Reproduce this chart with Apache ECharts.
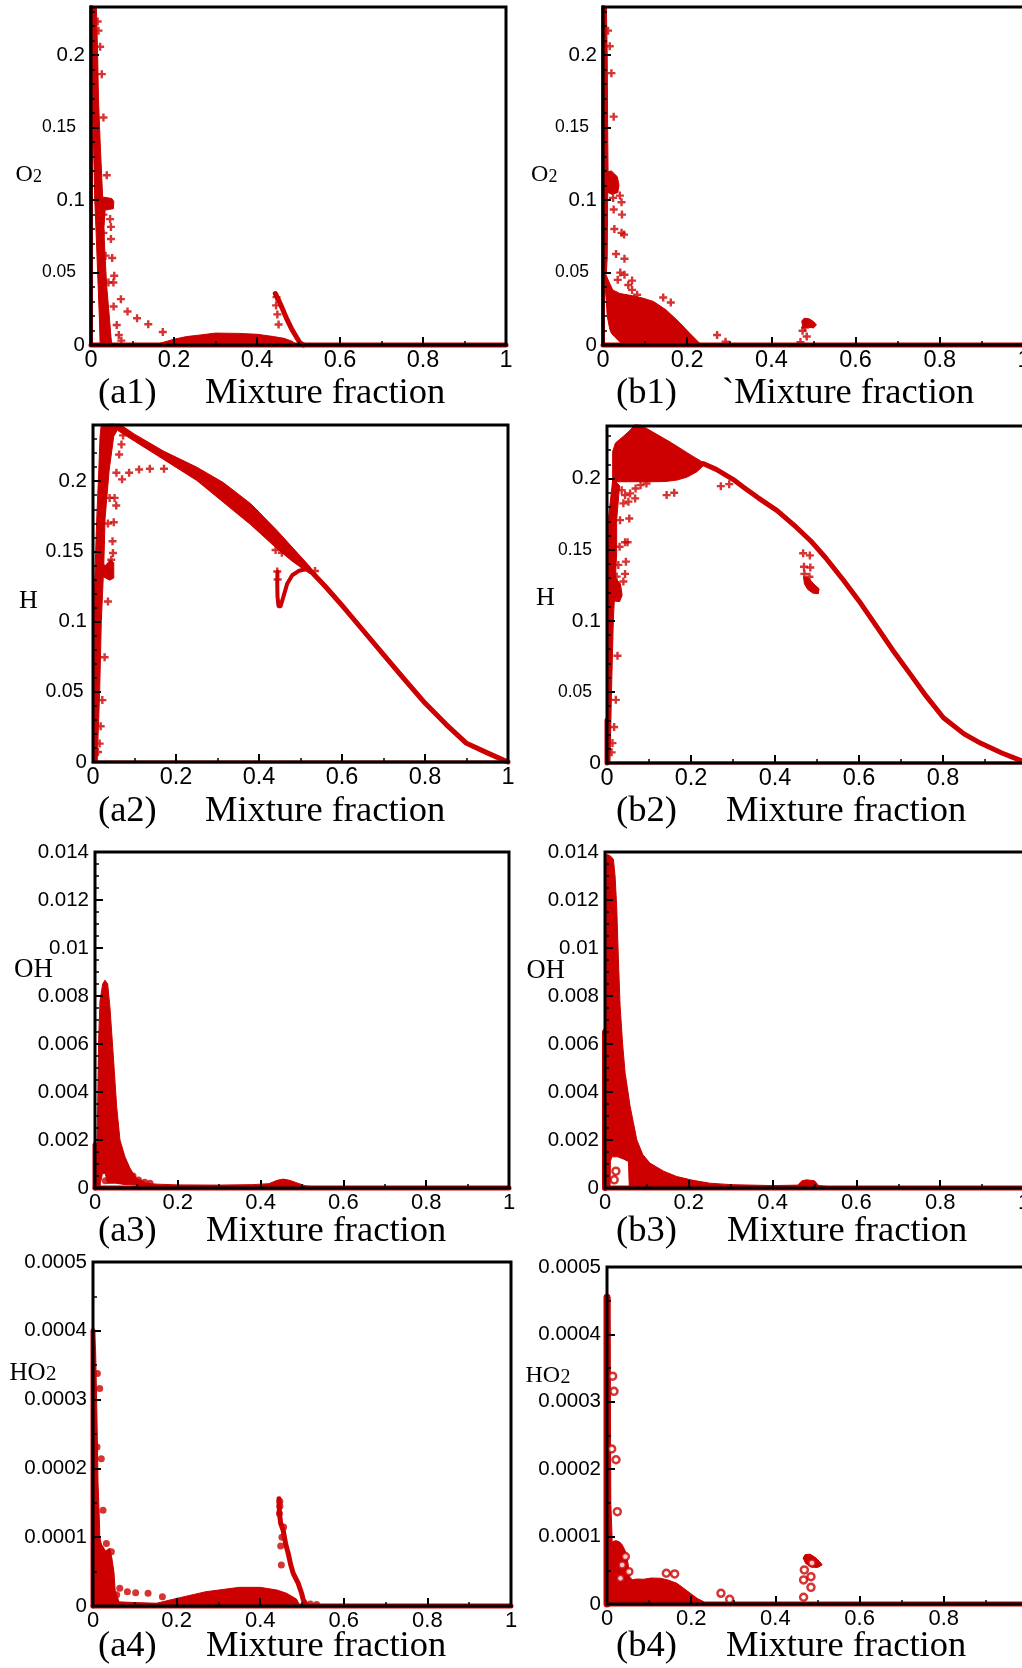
<!DOCTYPE html>
<html>
<head>
<meta charset="utf-8">
<script src="https://cdn.jsdelivr.net/npm/echarts@6/dist/echarts.min.js"></script>
<style>
  html, body { margin: 0; padding: 0; background: #fff; }
  #chart { width: 1022px; height: 1668px; }
</style>
</head>
<body>
<div id="chart"></div>
<script>
// ---- Scatter data: species mass fraction vs. mixture fraction ----
// (a*) and (b*) are the two cases; each dense cloud is kept as an outline,
// thin ridges as point sequences, sparse samples as individual points.

const zeroLine = [[0, 0], [1, 0]];

// (a1) O2
const a1Edge = [[0, 0], [0, 0.233]];
const a1Core = [[0,0.233],[0.013,0.232],[0.016,0.2],[0.018,0.17],[0.022,0.14],[0.026,0.115],[0.028,0.102],[0.05,0.101],[0.055,0.099],[0.054,0.094],[0.034,0.093],[0.031,0.08],[0.034,0.06],[0.038,0.04],[0.044,0.02],[0.048,0.006],[0.05,0],[0.022,0],[0.02,0.02],[0.016,0.05],[0.012,0.08],[0.009,0.1],[0.006,0.14],[0.003,0.18],[0,0.2]];
const a1Bump = [[0.15,0],[0.17,0.0015],[0.2,0.004],[0.23,0.0058],[0.263,0.0069],[0.3,0.0082],[0.356,0.008],[0.4,0.0074],[0.44,0.0058],[0.465,0.0046],[0.485,0.0025],[0.497,0]];
const a1Hook = [[0.444,0.0355],[0.452,0.031],[0.46,0.0259],[0.472,0.0178],[0.484,0.0108],[0.496,0.005],[0.504,0.0014],[0.512,0]];
const a1Plus = [[0.016,0.223],[0.018,0.2167],[0.022,0.2056],[0.026,0.1867],[0.030,0.1568],[0.038,0.117],[0.030,0.0899],[0.046,0.0868],[0.048,0.0814],[0.030,0.0773],[0.048,0.0731],[0.035,0.0616],[0.051,0.060],[0.056,0.0477],[0.042,0.0431],[0.054,0.0431],[0.072,0.0316],[0.088,0.0231],[0.111,0.0184],[0.138,0.0143],[0.173,0.009],[0.0545,0.0265],[0.062,0.0138],[0.067,0.0069],[0.073,0.003],[0.446,0.0273],[0.449,0.0211],[0.452,0.0141],[0.447,0.033]];

// (b1) O2
const b1Edge = [[0, 0], [0, 0.233]];
const b1Spine = [[0,0.233],[0.008,0.233],[0.01,0.2],[0.011,0.15],[0.012,0.12],[0.011,0.1],[0.01,0.06],[0.008,0.05],[0,0.05]];
const b1Knot = [[0.004,0.119],[0.02,0.12],[0.034,0.116],[0.038,0.11],[0.035,0.105],[0.02,0.104],[0.006,0.106]];
const b1Blob = [[0,0.052],[0.004,0.0505],[0.012,0.045],[0.023,0.038],[0.04,0.0355],[0.07,0.034],[0.095,0.0323],[0.12,0.030],[0.15,0.0242],[0.18,0.016],[0.205,0.0084],[0.229,0.0014],[0.235,0],[0.056,0],[0.04,0.002],[0.02,0.008],[0.016,0.011],[0.01,0.02],[0.008,0.03],[0.005,0.04],[0,0.04]];
const b1Tip = [[0.472,0.0165],[0.478,0.0185],[0.49,0.018],[0.5,0.0162],[0.507,0.0138],[0.5,0.0118],[0.488,0.0122],[0.475,0.0118]];
const b1Plus = [[0.012,0.2167],[0.016,0.2059],[0.020,0.1874],[0.0254,0.1574],[0.024,0.1083],[0.040,0.103],[0.024,0.1014],[0.044,0.0984],[0.0254,0.0934],[0.045,0.0899],[0.027,0.080],[0.044,0.0773],[0.050,0.0761],[0.031,0.0627],[0.051,0.0595],[0.041,0.0499],[0.051,0.0484],[0.035,0.0449],[0.069,0.0444],[0.060,0.0414],[0.069,0.038],[0.081,0.0346],[0.143,0.0327],[0.161,0.0293],[0.271,0.0069],[0.291,0.0023],[0.474,0.0098],[0.484,0.0059],[0.469,0.002],[0.48,0.012]];

// (a2) H
const a2Rise = [[0,0],[0.01,0],[0.016,0.05],[0.02,0.1],[0.026,0.14],[0.029,0.173],[0.039,0.208],[0.05,0.232],[0.062,0.238],[0.05,0.2405],[0.02,0.2405],[0.017,0.232],[0.014,0.208],[0.009,0.173],[0.005,0.137],[0.0016,0.101],[0,0.054]];
const a2Step = [[0.016,0.1415],[0.03,0.14],[0.042,0.144],[0.05,0.142],[0.05,0.131],[0.04,0.1295],[0.025,0.132],[0.016,0.134]];
const a2Wedge = [[0.04,0.2405],[0.065,0.2405],[0.1,0.2335],[0.17,0.2214],[0.25,0.21],[0.314,0.199],[0.38,0.184],[0.443,0.165],[0.523,0.139],[0.523,0.134],[0.48,0.143],[0.443,0.152],[0.38,0.169],[0.314,0.185],[0.25,0.2005],[0.17,0.2155],[0.1,0.2285],[0.06,0.236]];
const a2Tail = [[0.52,0.1375],[0.56,0.125],[0.6,0.1115],[0.65,0.094],[0.7,0.0765],[0.75,0.059],[0.8,0.042],[0.85,0.027],[0.9,0.0133],[0.95,0.0065],[1.0,0.0]];
const a2Hook = [[0.4445,0.1355],[0.444,0.127],[0.4445,0.118],[0.447,0.111],[0.452,0.111],[0.459,0.118],[0.468,0.127],[0.48,0.133],[0.495,0.136],[0.515,0.1375]];
const a2Plus = [[0.0686,0.2262],[0.063,0.219],[0.0725,0.2326],[0.0564,0.206],[0.087,0.206],[0.111,0.2083],[0.137,0.2088],[0.171,0.2088],[0.07,0.2013],[0.04,0.1881],[0.052,0.1881],[0.056,0.1827],[0.036,0.1698],[0.05,0.1707],[0.047,0.1572],[0.048,0.1488],[0.044,0.144],[0.036,0.1143],[0.028,0.0746],[0.0225,0.0441],[0.0185,0.0255],[0.016,0.0131],[0.012,0.0071],[0.444,0.1357],[0.445,0.13],[0.41,0.167],[0.43,0.16],[0.44,0.151],[0.455,0.149],[0.47,0.15],[0.51,0.1385],[0.535,0.136]];

// (b2) H
const b2Rise = [[0,0],[0.007,0],[0.011,0.054],[0.015,0.1],[0.023,0.1475],[0.023,0.171],[0.03,0.195],[0.014,0.2],[0.003,0.171],[0,0.147]];
const b2Knot = [[0.008,0.1285],[0.02,0.13],[0.032,0.126],[0.036,0.118],[0.03,0.1135],[0.015,0.114],[0.008,0.118]];
const b2Fan = [[0.0135,0.196],[0.0135,0.219],[0.02,0.225],[0.04,0.23],[0.055,0.234],[0.066,0.2378],[0.08,0.2375],[0.1,0.2343],[0.15,0.2258],[0.2,0.2165],[0.234,0.2105],[0.214,0.2048],[0.19,0.201],[0.167,0.199],[0.14,0.198],[0.111,0.1978],[0.07,0.1978],[0.0238,0.1978]];
const b2Tail = [[0.23,0.2105],[0.26,0.2065],[0.3,0.1995],[0.325,0.194],[0.36,0.1865],[0.405,0.1775],[0.45,0.166],[0.484,0.1565],[0.52,0.1445],[0.563,0.1285],[0.6,0.114],[0.643,0.0955],[0.68,0.0795],[0.722,0.0625],[0.76,0.047],[0.801,0.0318],[0.85,0.0205],[0.889,0.014],[0.94,0.007],[1.0,0.0]];
const b2Hook = [[0.468,0.131],[0.48,0.13],[0.492,0.126],[0.505,0.1225],[0.503,0.119],[0.49,0.1195],[0.478,0.122],[0.47,0.126]];
const b2Edge = [[0, 0], [0, 0.03]];
const b2Plus = [[0.068,0.193],[0.080,0.1954],[0.094,0.1966],[0.142,0.1884],[0.160,0.1901],[0.271,0.1947],[0.291,0.1961],[0.035,0.1919],[0.043,0.1884],[0.055,0.1896],[0.067,0.1861],[0.039,0.1826],[0.051,0.1838],[0.031,0.1708],[0.053,0.172],[0.030,0.1521],[0.043,0.1552],[0.049,0.1552],[0.027,0.1393],[0.045,0.1416],[0.023,0.1311],[0.043,0.133],[0.039,0.1276],[0.025,0.0754],[0.021,0.0444],[0.017,0.0253],[0.013,0.014],[0.011,0.0075],[0.467,0.1475],[0.483,0.146],[0.469,0.138],[0.484,0.1375],[0.47,0.133],[0.482,0.131]];

// (a3) OH
const a3Edge = [[0, 0], [0, 0.0018]];
const a3Peak = [[0.003,0],[0.0064,0.0034],[0.0088,0.0062],[0.0121,0.0078],[0.0185,0.0085],[0.0241,0.00866],[0.0306,0.0085],[0.0362,0.0075],[0.0442,0.0055],[0.0523,0.0034],[0.0603,0.002],[0.0724,0.0013],[0.085,0.0008],[0.1,0.0004],[0.12,0.00025],[0.12,0.0001],[0.1,0.00012],[0.07,0.00015],[0.05,0.0002],[0.03,0.0002],[0.025,0.0006],[0.018,0.0006],[0.013,0.0002],[0.012,0]];
const a3Low = [[0.1,0],[0.1,0.00022],[0.15,0.00016],[0.2,0.00013],[0.3,0.00012],[0.38,0.00014],[0.42,0.00018],[0.44,0.00032],[0.455,0.00037],[0.47,0.00032],[0.49,0.0002],[0.51,0.00008],[0.55,0.00003],[0.55,0]];
const a3Dots = [[0.045,0.0011],[0.052,0.0016],[0.056,0.0015],[0.062,0.0013],[0.068,0.0011],[0.074,0.0009],[0.08,0.0007],[0.092,0.0005],[0.105,0.00033],[0.12,0.00024],[0.133,0.0002],[0.025,0.0003]];

// (b3) OH
const b3Edge = [[0, 0], [0, 0.0065]];
const b3Peak = [[0,0],[0,0.0065],[0.001,0.0135],[0.004,0.0139],[0.012,0.01385],[0.02,0.0137],[0.024,0.013],[0.028,0.0117],[0.032,0.0095],[0.036,0.0076],[0.042,0.006],[0.048,0.0048],[0.06,0.0034],[0.076,0.002],[0.09,0.0014],[0.107,0.00104],[0.14,0.0007],[0.171,0.00048],[0.21,0.00032],[0.25,0.0002],[0.3,0.00014],[0.3,0],[0.058,0],[0.056,0.0011],[0.045,0.0012],[0.03,0.0013],[0.016,0.0013],[0.013,0.0011],[0.012,0]];
const b3Low = [[0.3,0],[0.3,0.00014],[0.4,0.0001],[0.46,0.00012],[0.47,0.0003],[0.481,0.00034],[0.5,0.0003],[0.51,0.0001],[0.55,0.00003],[0.55,0]];
const b3Rings = [[0.026,0.0007],[0.022,0.00034]];

// (a4) HO2
const a4Edge = [[0, 0], [0, 0.0004]];
const a4Spike = [[0,0],[0,0.0004],[0.003,0.0004],[0.0063,0.00037],[0.0096,0.00027],[0.012,0.00018],[0.016,0.00011],[0.016,0]];
const a4Cluster = [[0,0],[0,0.00012],[0.012,0.00011],[0.02,0.00009],[0.03,0.00008],[0.04,0.000084],[0.045,0.00007],[0.05,0.00005],[0.053,0.000023],[0.06,0.00001],[0.065,0]];
const a4Bump = [[0.06,0],[0.06,0.000006],[0.1,0.000005],[0.152,0.000004],[0.2,0.000011],[0.27,0.0000208],[0.35,0.0000271],[0.4,0.0000271],[0.44,0.0000232],[0.463,0.0000186],[0.487,0.00001],[0.495,0]];
const a4Hook = [[0.445,0.000156],[0.446,0.000135],[0.449,0.00012],[0.455,0.00011],[0.461,0.00009],[0.467,0.0000765],[0.473,0.00006],[0.479,0.0000474],[0.491,0.0000329],[0.499,0.0000186],[0.503,0.0000089],[0.51,0.000002]];
const a4Dots = [[0.0105,0.000338],[0.016,0.000316],[0.0097,0.000231],[0.0198,0.000214],[0.024,0.000139],[0.032,0.000091],[0.044,0.0000788],[0.036,0.0000498],[0.064,0.0000257],[0.0823,0.0000208],[0.102,0.0000194],[0.1317,0.0000186],[0.166,0.0000135],[0.0567,0.0000164],[0.04,0.000034],[0.449,0.0000871],[0.4505,0.0000595],[0.446,0.0001345],[0.456,0.0001147],[0.447,0.000152],[0.447,0.000145],[0.452,0.0001],[0.52,0.000003],[0.535,0.000002]];

// (b4) HO2
const b4Edge = [[0, 0], [0, 0.000455]];
const b4Spike = [[0,0],[0,0.000455],[0.007,0.000455],[0.008,0.0003],[0.009,0.00015],[0.012,0.0001],[0.012,0]];
const b4Hump = [[0.008,0],[0.008,0.00009],[0.015,0.000093],[0.022,0.000094],[0.03,0.000092],[0.036,0.000088],[0.044,0.000078],[0.05,0.00006],[0.054,0.00004],[0.06,0.000036],[0.07,0.000037],[0.087,0.0000367],[0.105,0.0000385],[0.127,0.0000382],[0.145,0.0000355],[0.166,0.0000307],[0.185,0.000022],[0.198,0.0000159],[0.215,0.000008],[0.23,0.0000034],[0.235,0]];
const b4Tip = [[0.466,0.000068],[0.47,0.000073],[0.482,0.000074],[0.495,0.000069],[0.505,0.000063],[0.511,0.000058],[0.5,0.000054],[0.485,0.000055],[0.472,0.00006]];
const b4Rings = [[0.0134,0.000338],[0.0166,0.0003155],[0.0111,0.00023],[0.0214,0.000214],[0.0245,0.000137],[0.0436,0.0000703],[0.036,0.000058],[0.052,0.000048],[0.032,0.0000382],[0.1409,0.0000456],[0.1607,0.0000446],[0.2707,0.0000159],[0.2914,0.0000069],[0.467,0.00001],[0.4687,0.0000505],[0.467,0.0000357],[0.4845,0.0000406],[0.4845,0.0000248],[0.4868,0.0000609]];

// Axis ranges per panel
const yMaxima = [0.233, 0.233, 0.24, 0.237, 0.014, 0.014, 0.0005, 0.0005];
const yIntervals = [0.05, 0.05, 0.05, 0.05, 0.002, 0.002, 0.0001, 0.0001];

// ---- Layout and style ----
const RED = '#cc0000';
const SANS = 'Liberation Sans';
// big/small: y label font sizes (small is used for the half-step labels 0.05, 0.15)
const layout = [
  { left: 91,  top: 7,    width: 415, height: 338, big: 20.5, small: 17.5, pad: 9,   xFont: 23.5, minor: 5, showMax: false },
  { left: 603, top: 7,    width: 421, height: 338, big: 20.5, small: 17.5, pad: 8,   xFont: 23.5, minor: 5, showMax: false },
  { left: 93,  top: 425,  width: 415, height: 337, big: 20.5, small: 19.5, pad: 3.5, xFont: 23.5, minor: 5, showMax: false },
  { left: 607, top: 426,  width: 420, height: 337, big: 21,   small: 17.5, pad: 9,   xFont: 23.5, minor: 5, showMax: false },
  { left: 95,  top: 852,  width: 414, height: 336, big: 20.5, small: 0,    pad: 0,   xFont: 22,   minor: 4, showMax: true },
  { left: 605, top: 852,  width: 419, height: 336, big: 20.5, small: 0,    pad: 0,   xFont: 22,   minor: 4, showMax: true },
  { left: 93,  top: 1262, width: 418, height: 344, big: 20.5, small: 0,    pad: 0,   xFont: 22,   minor: 2, showMax: true },
  { left: 607, top: 1267, width: 421, height: 337, big: 20.5, small: 0,    pad: 0,   xFont: 22,   minor: 2, showMax: true }
];

const tickStyle = { show: true, inside: true, length: 8, lineStyle: { color: '#000', width: 2 } };

const grids = layout.map(function (g) {
  return { left: g.left, top: g.top, width: g.width, height: g.height, show: true,
    outerBoundsMode: 'none', containLabel: false,
    borderColor: '#000', borderWidth: 3, backgroundColor: 'transparent', z: 5 };
});
const xAxes = layout.map(function (g, i) {
  return { type: 'value', gridIndex: i, min: 0, max: 1, interval: 0.2, z: 6,
    axisLine: { show: false }, splitLine: { show: false }, axisTick: tickStyle,
    minorTick: { show: true, splitNumber: 2, length: 4, lineStyle: { color: '#000', width: 1.5 } },
    axisLabel: { color: '#000', fontSize: g.xFont, fontFamily: SANS, margin: 4 } };
});
const yAxes = layout.map(function (g, i) {
  const label = { color: '#000', fontSize: g.big, fontFamily: SANS, margin: 6, showMaxLabel: g.showMax };
  if (g.small) {
    label.formatter = function (v) {
      const s = String(+v.toFixed(4));
      return (Math.round(v * 100) % 10 === 5) ? '{s|' + s + '}' : '{b|' + s + '}';
    };
    label.rich = {
      b: { fontSize: g.big, fontFamily: SANS, color: '#000' },
      s: { fontSize: g.small, fontFamily: SANS, color: '#000', padding: [0, g.pad, 0, 0] }
    };
  }
  return { type: 'value', gridIndex: i, min: 0, max: yMaxima[i], interval: yIntervals[i], z: 6,
    axisLine: { show: false }, splitLine: { show: false }, axisTick: tickStyle,
    minorTick: { show: true, splitNumber: g.minor, length: 4, lineStyle: { color: '#000', width: 1.5 } },
    axisLabel: label };
});

// Filled outline of a dense point cloud, projected through the panel axes
function cloud(i, pts) {
  return { type: 'custom', xAxisIndex: i, yAxisIndex: i, data: pts, z: 2, silent: true, animation: false,
    renderItem: function (params, api) {
      if (params.dataIndex !== 0) return null;
      return { type: 'polygon',
        shape: { points: pts.map(function (p) { return api.coord(p); }) },
        style: { fill: RED, stroke: RED, lineWidth: 1 } };
    } };
}
function ridge(i, pts, w) {
  return { type: 'line', xAxisIndex: i, yAxisIndex: i, data: pts, symbol: 'none', clip: false,
    lineStyle: { color: RED, width: w, cap: 'round', join: 'round' }, z: 2, silent: true, animation: false };
}
const PLUS = 'path://M2.8,0H5.2V2.8H8V5.2H5.2V8H2.8V5.2H0V2.8H2.8Z';
function pluses(i, pts) {
  return { type: 'scatter', xAxisIndex: i, yAxisIndex: i, data: pts, symbol: PLUS, symbolSize: 8,
    itemStyle: { color: RED }, z: 3, silent: true, animation: false };
}
function dots(i, pts) {
  return { type: 'scatter', xAxisIndex: i, yAxisIndex: i, data: pts, symbol: 'circle', symbolSize: 7,
    itemStyle: { color: RED }, z: 3, silent: true, animation: false };
}
function rings(i, pts) {
  return { type: 'scatter', xAxisIndex: i, yAxisIndex: i, data: pts, symbol: 'circle', symbolSize: 7,
    itemStyle: { color: '#fff', borderColor: RED, borderWidth: 2.5 }, z: 3, silent: true, animation: false };
}

const series = [
  // (a1)
  ridge(0, zeroLine, 5), ridge(0, a1Edge, 4), cloud(0, a1Core), cloud(0, a1Bump), ridge(0, a1Hook, 5), pluses(0, a1Plus),
  // (b1)
  ridge(1, zeroLine, 5), ridge(1, b1Edge, 4), cloud(1, b1Spine), cloud(1, b1Knot), cloud(1, b1Blob), cloud(1, b1Tip), pluses(1, b1Plus),
  // (a2)
  ridge(2, zeroLine, 3), cloud(2, a2Rise), cloud(2, a2Step), cloud(2, a2Wedge), ridge(2, a2Tail, 5), ridge(2, a2Hook, 4), pluses(2, a2Plus),
  // (b2)
  ridge(3, zeroLine, 3), ridge(3, b2Edge, 5), cloud(3, b2Rise), cloud(3, b2Knot), cloud(3, b2Fan), ridge(3, b2Tail, 5), cloud(3, b2Hook), pluses(3, b2Plus),
  // (a3)
  ridge(4, zeroLine, 5), ridge(4, a3Edge, 5), cloud(4, a3Peak), cloud(4, a3Low), dots(4, a3Dots),
  // (b3)
  ridge(5, zeroLine, 5), ridge(5, b3Edge, 6), cloud(5, b3Peak), cloud(5, b3Low), rings(5, b3Rings),
  // (a4)
  ridge(6, zeroLine, 5), ridge(6, a4Edge, 5), cloud(6, a4Spike), cloud(6, a4Cluster), cloud(6, a4Bump), ridge(6, a4Hook, 5), dots(6, a4Dots),
  // (b4)
  ridge(7, zeroLine, 5), ridge(7, b4Edge, 7), cloud(7, b4Spike), cloud(7, b4Hump), cloud(7, b4Tip), rings(7, b4Rings)
];

// ---- Text: panel captions and species names ----
const SERIF = '"Liberation Serif", "Times New Roman", serif';
function textAt(str, x, baseline, size) {
  return { type: 'text', x: x, y: baseline - 0.3375 * size, silent: true,
    style: { text: str, font: size + 'px ' + SERIF, fill: '#000', align: 'left',
      verticalAlign: 'middle', textVerticalAlign: 'middle' } };
}
const captions = [
  ['(a1)', 98, 'Mixture fraction', 205, 406],
  ['(b1)', 616, '`Mixture fraction', 722, 406],
  ['(a2)', 98, 'Mixture fraction', 205, 824],
  ['(b2)', 616, 'Mixture fraction', 726, 824],
  ['(a3)', 98, 'Mixture fraction', 206, 1244],
  ['(b3)', 616, 'Mixture fraction', 727, 1244],
  ['(a4)', 98, 'Mixture fraction', 206, 1659],
  ['(b4)', 616, 'Mixture fraction', 726, 1659]
];
const species = [
  // main text, x, baseline, size, subscript, subscript x, subscript size
  ['O', 15.5, 183, 24, '2', 33, 18],
  ['O', 531, 183, 24, '2', 548.5, 18],
  ['H', 19, 610, 26, '', 0, 0],
  ['H', 536, 607, 26, '', 0, 0],
  ['OH', 14, 979.5, 27, '', 0, 0],
  ['OH', 526.5, 980, 26.5, '', 0, 0],
  ['HO', 9.5, 1382, 25, '2', 46, 21],
  ['HO', 525.5, 1384, 24, '2', 560.5, 20]
];
const graphics = [];
captions.forEach(function (c) {
  graphics.push(textAt(c[0], c[1], c[4], 36.5));
  graphics.push(textAt(c[2], c[3], c[4], 36.5));
});
species.forEach(function (s) {
  graphics.push(textAt(s[0], s[1], s[2], s[3]));
  if (s[4]) graphics.push(textAt(s[4], s[5], s[2], s[6]));
});

const chart = echarts.init(document.getElementById('chart'), null, { renderer: 'canvas' });
chart.setOption({
  animation: false,
  backgroundColor: '#fff',
  grid: grids,
  xAxis: xAxes,
  yAxis: yAxes,
  series: series,
  graphic: { elements: graphics }
});
</script>
</body>
</html>
